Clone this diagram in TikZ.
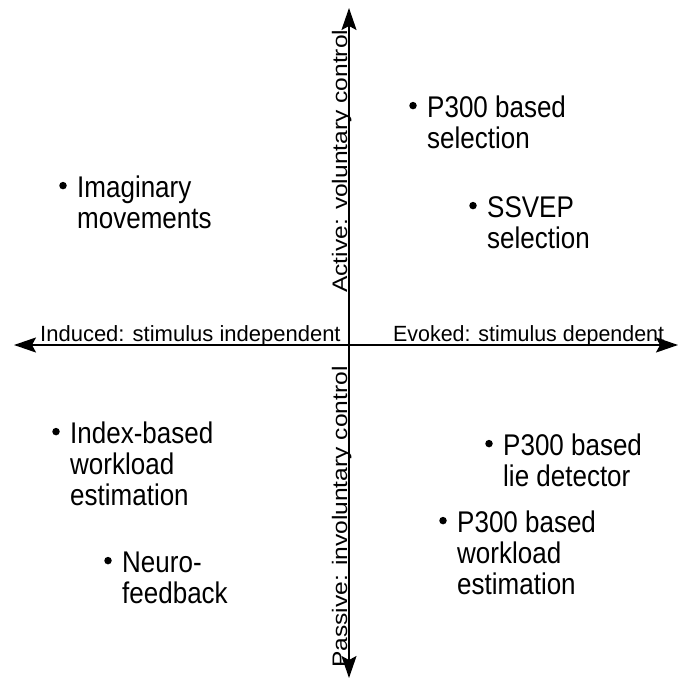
\documentclass[tikz,border=0pt]{standalone}
\usepackage{fontspec}
\setmainfont{Liberation Sans}
\usetikzlibrary{arrows.meta}
\newcommand{\itemtext}[1]{\scalebox{1}[1.15]{\begin{tabular}{@{}l@{}}#1\end{tabular}}}
\begin{document}
\begin{tikzpicture}[x=1pt,y=-1pt,
  axis/.style={line width=1.8pt, {Stealth[length=22pt,width=15pt,inset=4pt]}-{Stealth[length=22pt,width=15pt,inset=4pt]}},
  hlbl/.style={font=\fontsize{20}{24}\selectfont, inner sep=0pt, anchor=base west},
  vlbl/.style={font=\fontsize{21}{24}\selectfont, inner sep=0pt, anchor=base west, rotate=90},
  lbl/.style={font=\fontsize{26}{27}\selectfont, anchor=north west, inner sep=0pt},
  dot/.style={circle, fill=black, inner sep=0pt, minimum size=7.5pt}]
\useasboundingbox (0,0) rectangle (680,684);
\fill[white] (0,0) rectangle (680,684);
% axes
\coordinate (L) at (14,345);
\coordinate (R) at (678,345);
\coordinate (T) at (349,8);
\coordinate (B) at (349,678);
\draw[axis] (L) -- (R);
\draw[axis] (B) -- (T);
% axis labels
\node[hlbl] (ind) at (40,341) {\scalebox{1.1}[1.1]{Induced: stimulus independent}};
\node[hlbl] (evo) at (393,341) {\scalebox{1.07}[1.1]{Evoked: stimulus dependent}};
\node[vlbl] (act) at (347,293) {\scalebox{1.17}[1]{Active: voluntary control}};
\node[vlbl] (pas) at (347,668) {\scalebox{1.17}[1]{Passive: involuntary control}};
% items
\node[lbl] (im) at (77,175.1) {\itemtext{Imaginary\\movements}};
\node[lbl] (ps) at (427,95.1) {\itemtext{P300 based\\selection}};
\node[lbl] (ss) at (487,195.1) {\itemtext{SSVEP\\selection}};
\node[lbl] (ix) at (70,421.1) {\itemtext{Index-based\\workload\\estimation}};
\node[lbl] (nf) at (122,550.1) {\itemtext{Neuro-\\feedback}};
\node[lbl] (ld) at (503,433.1) {\itemtext{P300 based\\lie detector}};
\node[lbl] (pw) at (457,510.1) {\itemtext{P300 based\\workload\\estimation}};
% bullets
\foreach \n in {im,ps,ss,ix,nf,ld,pw}
  \node[dot] (d\n) at ([shift={(-14,10.5)}]\n.north west) {};
\end{tikzpicture}
\end{document}
